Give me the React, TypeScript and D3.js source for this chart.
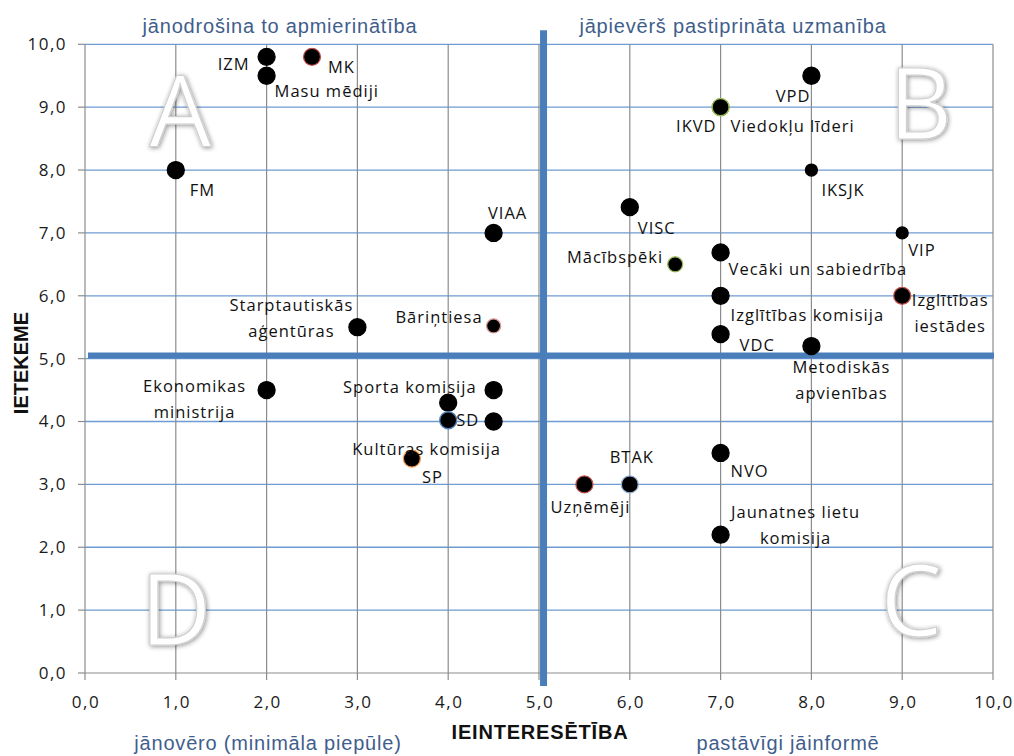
import React from "react";
import * as d3 from "d3";

// ---- data ----
const names = [
  "IZM", "MK", "Masu mēdiji", "FM", "VIAA", "Starptautiskās\naģentūras", "Bāriņtiesa",
  "Ekonomikas\nministrija", "Sporta komisija", "", "SD", "Kultūras komisija", "SP",
  "Uzņēmēji", "BTAK", "NVO", "Jaunatnes lietu\nkomisija", "VISC", "Mācībspēki",
  "Vecāki un sabiedrība", "Izglītības komisija", "VDC", "Metodiskās\napvienības",
  "VIP", "Izglītības\niestādes", "VPD", "IKVD", "Viedokļu līderi", "IKSJK",
];
const interest = [
  2.0, 2.5, 2.0, 1.0, 4.5, 3.0, 4.5,
  2.0, 4.5, 4.0, 4.0, 4.5, 3.6,
  5.5, 6.0, 7.0, 7.0, 6.0, 6.5,
  7.0, 7.0, 7.0, 8.0,
  9.0, 9.0, 8.0, 7.0, 7.0, 8.0,
];
const influence = [
  9.8, 9.8, 9.5, 8.0, 7.0, 5.5, 5.52,
  4.5, 4.5, 4.3, 4.02, 4.0, 3.41,
  3.0, 3.0, 3.5, 2.2, 7.41, 6.5,
  6.69, 6.0, 5.39, 5.2,
  7.0, 6.0, 9.5, 9.0, 9.0, 8.0,
];
const ticks = [0, 1, 2, 3, 4, 5, 6, 7, 8, 9, 10];
const divider = 5.05;
const quadrantCaptions = [
  { text: "jānodrošina to apmierinātība", cx: 280, cy: 33 },
  { text: "jāpievērš pastiprināta uzmanība", cx: 733, cy: 33 },
  { text: "jānovēro (minimāla piepūle)", cx: 268, cy: 750 },
  { text: "pastāvīgi jāinformē", cx: 788, cy: 750 },
];
const quadrantLetters = [
  { text: "A", vx: 1.05, vy: 8.95 },
  { text: "B", vx: 9.2, vy: 9.05 },
  { text: "C", vx: 9.1, vy: 1.15 },
  { text: "D", vx: 1.0, vy: 1.0 },
];

// ---- styling (per point) ----
const markerR: Record<string, number> = { VIP: 6, IKSJK: 6, "Bāriņtiesa": 7, "Mācībspēki": 7.5 };
const markerStroke: Record<string, string> = {
  MK: "#c0504d", "Bāriņtiesa": "#d99694", SD: "#4f81bd", SP: "#f79646",
  "Uzņēmēji": "#c0504d", BTAK: "#95b3d7", "Mācībspēki": "#9bbb59",
  "Izglītības\niestādes": "#c0504d", IKVD: "#9bbb59", "Viedokļu līderi": "#9bbb59",
};
// label placement: dx, dy (baseline of first line), anchor
const labelPos: Record<string, [number, number, string]> = {
  IZM: [-17, 13, "end"],
  MK: [16, 16, "start"],
  "Masu mēdiji": [8, 21, "start"],
  FM: [14, 26, "start"],
  VIAA: [14, -14, "middle"],
  "Starptautiskās\naģentūras": [-66, -16, "middle"],
  "Bāriņtiesa": [-11, -3, "end"],
  "Ekonomikas\nministrija": [-72, 2, "middle"],
  "Sporta komisija": [-17, 3, "end"],
  SD: [8, 6, "start"],
  "Kultūras komisija": [-67, 33, "middle"],
  SP: [10, 24, "start"],
  "Uzņēmēji": [6, 29, "middle"],
  BTAK: [2, -21, "middle"],
  NVO: [10, 24, "start"],
  "Jaunatnes lietu\nkomisija": [75, -17, "middle"],
  VISC: [8, 27, "start"],
  "Mācībspēki": [-12, -1, "end"],
  "Vecāki un sabiedrība": [8, 23, "start"],
  "Izglītības komisija": [10, 25, "start"],
  VDC: [19, 17, "start"],
  "Metodiskās\napvienības": [30, 27, "middle"],
  VIP: [6, 23, "start"],
  "Izglītības\niestādes": [48, 10, "middle"],
  VPD: [-1, 26, "end"],
  IKVD: [-4, 25, "end"],
  "Viedokļu līderi": [10, 25, "start"],
  IKSJK: [10, 26, "start"],
};

const W = 1014, H = 756;
const x = d3.scaleLinear().domain([0, 10]).range([85, 993]);
const y = d3.scaleLinear().domain([0, 10]).range([673, 44.3]);
const fmt = (v: number) => d3.format(".1f")(v).replace(".", ",");

const labelFont = "'Open Sans', 'Noto Sans', sans-serif";

export default function App() {
  const points = names.map((n, i) => ({ name: n, vx: interest[i], vy: influence[i] }));
  return (
    <svg width={W} height={H} style={{ position: "absolute", left: 0, top: 0, background: "#fff" }}>
      <defs>
        <filter id="soft" x="-30%" y="-30%" width="160%" height="160%">
          <feGaussianBlur in="SourceAlpha" stdDeviation="2.5" result="b" />
          <feOffset dx="1" dy="1" in="b" result="o" />
          <feComponentTransfer in="o" result="s">
            <feFuncA type="linear" slope="0.45" />
          </feComponentTransfer>
          <feMerge>
            <feMergeNode in="s" />
            <feMergeNode in="SourceGraphic" />
          </feMerge>
        </filter>
      </defs>
      {/* horizontal blue gridlines */}
      {ticks.filter((t) => t > 0).map((t) => (
        <line key={"h" + t} x1={x(0)} x2={x(10)} y1={y(t)} y2={y(t)} stroke="#6f9bd3" strokeWidth={1.3} />
      ))}
      {/* vertical gray gridlines */}
      {ticks.filter((t) => t > 0).map((t) => (
        <line key={"v" + t} x1={x(t)} x2={x(t)} y1={y(10)} y2={y(0)} stroke="#8c8c8c" strokeWidth={1.2} />
      ))}
      {/* axes */}
      <line x1={x(0)} x2={x(0)} y1={y(10)} y2={y(0)} stroke="#8c8c8c" strokeWidth={1.2} />
      <line x1={x(0)} x2={x(10)} y1={y(0)} y2={y(0)} stroke="#8c8c8c" strokeWidth={1.2} />
      {ticks.map((t) => (
        <line key={"yt" + t} x1={x(0) - 7} x2={x(0)} y1={y(t)} y2={y(t)} stroke="#8c8c8c" strokeWidth={1.2} />
      ))}
      {ticks.map((t) => (
        <line key={"xt" + t} x1={x(t)} x2={x(t)} y1={y(0)} y2={y(0) + 7} stroke="#8c8c8c" strokeWidth={1.2} />
      ))}
      {ticks.map((t) => (
        <text key={"yl" + t} x={67} y={y(t)} dy="0.35em" textAnchor="end" fontFamily={labelFont} fontSize={17} fill="#1a1a1a" letterSpacing={1.5}>
          {fmt(t)}
        </text>
      ))}
      {ticks.map((t) => (
        <text key={"xl" + t} x={x(t) + 1} y={702} dy="0.35em" textAnchor="middle" fontFamily={labelFont} fontSize={17} fill="#1a1a1a" letterSpacing={1.5}>
          {fmt(t)}
        </text>
      ))}
      {/* quadrant letters */}
      {quadrantLetters.map((q) => (
        <text key={q.text} x={x(q.vx)} y={y(q.vy)} dy="0.36em" textAnchor="middle" fontFamily="'Open Sans', sans-serif" fontSize={98} fill="#ffffff" stroke="#d0d0d0" strokeWidth={1.2} filter="url(#soft)">
          {q.text}
        </text>
      ))}
      {/* divider lines */}
      <line x1={x(divider)} x2={x(divider)} y1={y(10) - 14} y2={y(0) + 13} stroke="#4a7ebb" strokeWidth={7} />
      <line x1={x(0) + 3} x2={x(10) + 1} y1={y(divider)} y2={y(divider)} stroke="#4a7ebb" strokeWidth={6} />
      {/* points */}
      {points.map((p, i) => (
        <circle key={"c" + i} cx={x(p.vx)} cy={y(p.vy)} r={markerR[p.name] ?? 8.5} fill="#000" stroke={markerStroke[p.name] ?? "#000"} strokeWidth={1.3} />
      ))}
      {/* labels */}
      {points.map((p, i) => {
        if (!p.name) return null;
        const pos = labelPos[p.name] ?? [10, 0, "start"];
        const lines = p.name.split("\n");
        return (
          <text key={"t" + i} x={x(p.vx) + pos[0]} y={y(p.vy) + pos[1]} textAnchor={pos[2] as any} fontFamily={labelFont} fontSize={16.5} fill="#111" letterSpacing={1}>
            {lines.map((l, j) => (
              <tspan key={j} x={x(p.vx) + pos[0]} dy={j === 0 ? 0 : 26}>{l}</tspan>
            ))}
          </text>
        );
      })}
      {/* quadrant captions */}
      {quadrantCaptions.map((c) => (
        <text key={c.text} x={c.cx} y={c.cy} textAnchor="middle" fontFamily="'Liberation Sans', Arial, sans-serif" fontSize={20} letterSpacing={0.8} fill="#3f5e8c">
          {c.text}
        </text>
      ))}
      {/* axis titles */}
      <text x={540} y={739} textAnchor="middle" fontFamily="'Liberation Sans', Arial, sans-serif" fontWeight="bold" fontSize={20} letterSpacing={0.8} fill="#111">
        IEINTERESĒTĪBA
      </text>
      <text transform={`translate(28,363) rotate(-90)`} textAnchor="middle" fontFamily="'Liberation Sans', Arial, sans-serif" fontWeight="bold" fontSize={20} fill="#111">
        IETEKEME
      </text>
    </svg>
  );
}
